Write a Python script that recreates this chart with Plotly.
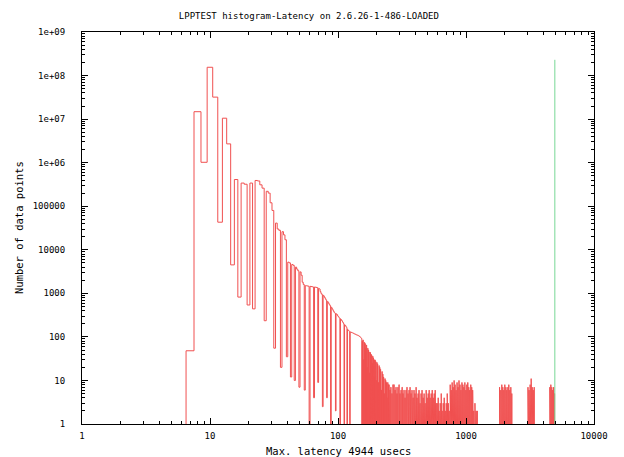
import plotly.graph_objects as go

TITLE = "LPPTEST histogram-Latency on 2.6.26-1-486-LOADED"
X_TITLE = "Max. latency 4944 usecs"
Y_TITLE = "Number of data points"

# Histogram counts for latency bins 7 .. 153 usecs (one value per 1-usec bin)
first_bin = 7
main_counts = [
    48, 1.48e7, 1.02e6, 1.55e8, 3.2e7, 4.3e4, 1.05e7, 2.7e6, 4500, 4.1e5,      # 7-16
    820, 3.4e5, 3.2e5, 540, 3.4e5, 440, 3.9e5, 3.8e5, 3.1e5, 2.6e5,            # 17-26
    235, 2.2e5, 2.0e5, 1.2e5, 8e4, 55, 4.1e4, 3.0e4, 2.8e4, 20,                # 27-36
    2.6e4, 2.2e4, 1.7e4, 35, 5200, 5000, 12, 4600, 4400, 10,                   # 37-46
    4000, 3600, 3300, 7, 3100, 2600, 1800, 1600, 6, 1500,                      # 47-56
    1500, 1500, 1450, 0, 1450, 1450, 1400, 1400, 4, 1400,                      # 57-66
    1400, 1400, 1350, 9, 1300, 1250, 1100, 1000, 950, 2.5,                     # 67-76
    900, 850, 800, 750, 700, 4, 650, 620, 580, 550,                            # 77-86
    520, 0, 480, 450, 430, 400, 380, 360, 350, 2,                              # 87-96
    340, 330, 320, 300, 290, 280, 270, 0, 260, 250,                            # 97-106
    240, 230, 220, 210, 200, 0, 190, 185, 180, 170,                            # 107-116
    165, 0, 150, 145, 140, 140, 135, 0, 130, 130,                              # 117-126
    128, 126, 125, 124, 122, 120, 120, 118, 118, 116,                          # 127-136
    115, 114, 112, 112, 110, 110, 108, 108, 106, 105,                          # 137-146
    104, 102, 100, 98, 96, 94, 92,                                             # 147-153
]

# Sparse tail: only the non-empty bins above 153 usecs
tail_bins = [
    155, 157, 159, 161, 163, 165, 167, 169, 171, 173, 175, 177, 179, 181,
    183, 185, 187, 189, 191, 193, 195, 197, 199,
    201, 204, 207, 209, 212, 215, 218, 221, 224, 227, 230, 233, 236, 239, 242, 245, 248,
    250, 255, 259, 264, 269, 274, 279, 284, 289, 294, 300, 305, 311, 317, 322, 328, 334, 340, 346, 353,
    359, 366, 372, 379, 386, 393, 400, 408, 415, 423, 430, 438, 446, 454, 463, 471, 480, 489, 498, 507,
    516, 525, 535, 545, 555, 565, 575, 585, 596, 607, 618, 629, 641, 652, 664, 676, 689, 701, 714, 727, 740,
    753, 767, 780, 794, 808, 822, 837, 852, 867, 882, 898, 914, 930, 946, 963, 980, 998, 1015, 1033, 1052,
    1070, 1090, 1109, 1128,
    1150, 1175, 1200, 1225,
    1830, 1870, 1905, 1940, 1975, 2010, 2050, 2085, 2125, 2160, 2200, 2240, 2280,
    3050, 3110, 3170, 3230, 3290, 3350, 3410,
    4520, 4600, 4680, 4760, 4840, 4920,
]
tail_counts = [
    80, 85, 30, 75, 70, 55, 65, 20, 55, 50, 45, 15, 44, 40,
    38, 25, 36, 33, 12, 30, 29, 27, 10,
    26, 24, 9, 22, 20, 18, 6, 16, 14, 12, 5, 11, 10, 9, 4, 9, 8,
    8, 6, 7, 5, 8, 8, 6, 7, 5, 7, 8, 5, 6, 7, 5, 6, 4, 6, 7, 5,
    6, 7, 5, 6, 4, 6, 5, 7, 4, 5, 6, 3, 5, 6, 4, 5, 3, 6, 4, 5,
    6, 4, 5, 6, 4, 5, 6, 3, 3, 4, 2, 3, 5, 2, 3, 4, 2, 3, 5, 3, 2,
    8, 6, 9, 7, 10, 8, 6, 9, 7, 10, 8, 6, 9, 8, 7, 9, 6, 8, 9, 7,
    6, 8, 7, 6,
    2, 3, 2, 2,
    7, 6, 8, 7, 6, 8, 7, 6, 7, 8, 6, 7, 5,
    7, 6, 8, 11, 7, 6, 7,
    7, 8, 7, 6, 7, 5,
]

max_latency = 4944
max_marker_height = 2.3e8

x_ticks = [1, 10, 100, 1000, 10000]
x_ticktext = ["1", "10", "100", "1000", "10000"]
y_ticks = [1, 10, 100, 1000, 10000, 100000, 1e6, 1e7, 1e8, 1e9]
y_ticktext = ["1", "10", "100", "1000", "10000", "100000", "1e+06", "1e+07", "1e+08", "1e+09"]

# ---------- build the histogram step outline (gnuplot "histeps") ----------
bins = [first_bin + i for i in range(len(main_counts))] + tail_bins
counts = main_counts + tail_counts
FLOOR = 0.1  # empty bins drop below the log axis

xs, ys = [], []
prev = None
for b, c in zip(bins, counts):
    v = c if c > 0 else FLOOR
    lo, hi = b - 0.5, b + 0.5
    if prev is None or prev != b - 1:
        if prev is not None:
            xs.append(prev + 0.5); ys.append(FLOOR)
        xs.append(lo); ys.append(FLOOR)
    xs += [lo, hi]
    ys += [v, v]
    prev = b
xs.append(prev + 0.5); ys.append(FLOOR)

fig = go.Figure()
fig.add_trace(go.Scatter(x=xs, y=ys, mode="lines",
                         line=dict(color="rgb(240,80,80)", width=1),
                         hoverinfo="skip", showlegend=False))
fig.add_trace(go.Scatter(x=[max_latency, max_latency], y=[FLOOR, max_marker_height], mode="lines",
                         line=dict(color="rgb(120,215,150)", width=1),
                         showlegend=False))

minor_x = [d * 10 ** k for k in range(0, 4) for d in range(2, 10)]
minor_y = [d * 10 ** k for k in range(0, 9) for d in range(2, 10)]

FONT = "DejaVu Sans Mono"
axis_common = dict(type="log", showline=True, linecolor="black", linewidth=1, mirror="allticks",
                   ticks="inside", ticklen=6, tickcolor="black", showgrid=False, zeroline=False,
                   automargin=False,
                   tickfont=dict(family=FONT, size=9, color="black"))

fig.update_layout(
    width=624, height=457,
    margin=dict(l=82, r=30, t=32, b=33),
    paper_bgcolor="white", plot_bgcolor="white",
    font=dict(family=FONT, size=9, color="black"),
    title=dict(text=TITLE, x=0.495, xanchor="center", y=1 - 16 / 457, yanchor="middle",
               font=dict(family=FONT, size=9, color="black")),
    xaxis=dict(**axis_common, range=[0, 4], tickvals=x_ticks, ticktext=x_ticktext,
               ticklabelstandoff=3,
               minor=dict(ticks="inside", ticklen=3, tickcolor="black", tickvals=minor_x)),
    yaxis=dict(**axis_common, range=[0, 9], tickvals=y_ticks, ticktext=y_ticktext,
               ticklabelstandoff=14,
               minor=dict(ticks="inside", ticklen=3, tickcolor="black", tickvals=minor_y)),
    annotations=[
        dict(text=X_TITLE, xref="paper", yref="paper", x=0.5, y=-27 / 392,
             xanchor="center", yanchor="middle", showarrow=False,
             font=dict(family=FONT, size=10.5, color="black")),
        dict(text=Y_TITLE, xref="paper", yref="paper", x=-63 / 512, y=0.5, textangle=-90,
             xanchor="center", yanchor="middle", showarrow=False,
             font=dict(family=FONT, size=10.5, color="black")),
    ],
)

fig.write_html("out.html")
